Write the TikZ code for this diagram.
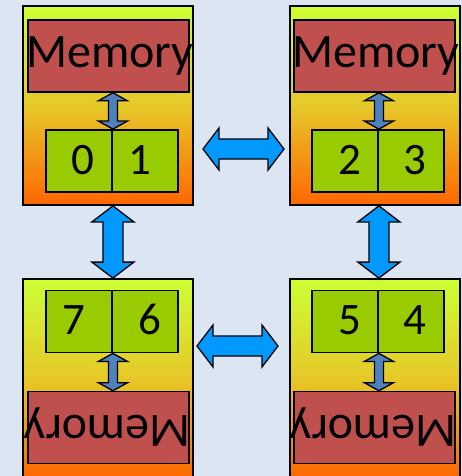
\documentclass[tikz,border=0pt]{standalone}
\usepackage{fontspec}
\setmainfont{Carlito}
\usetikzlibrary{calc}

\definecolor{bgblue}{HTML}{DCE6F2}
\definecolor{unittop}{HTML}{CCFF33}
\definecolor{unitmid}{HTML}{E6C829}
\definecolor{unitbot}{HTML}{FF6600}
\definecolor{memred}{HTML}{C0504D}
\definecolor{regreen}{HTML}{99CC00}
\definecolor{linkblue}{HTML}{4F81BD}
\definecolor{busblue}{HTML}{0099FF}

\tikzset{
  % block double arrow between two points: head length / head half width / shaft half width
  dblarrow/.style args={#1/#2/#3}{to path={
     -- ($(\tikztostart)!#1!(\tikztotarget)!#2!90:(\tikztotarget)$)
     -- ($(\tikztostart)!#1!(\tikztotarget)!#3!90:(\tikztotarget)$)
     -- ($(\tikztotarget)!#1!(\tikztostart)!#3!-90:(\tikztostart)$)
     -- ($(\tikztotarget)!#1!(\tikztostart)!#2!-90:(\tikztostart)$)
     -- (\tikztotarget)
     -- ($(\tikztotarget)!#1!(\tikztostart)!#2!90:(\tikztostart)$)
     -- ($(\tikztotarget)!#1!(\tikztostart)!#3!90:(\tikztostart)$)
     -- ($(\tikztostart)!#1!(\tikztotarget)!#3!-90:(\tikztotarget)$)
     -- ($(\tikztostart)!#1!(\tikztotarget)!#2!-90:(\tikztotarget)$)
     -- cycle}},
  unitbox/.style={draw=black, line width=1.8pt, rectangle, inner sep=0pt,
     minimum width=170pt, minimum height=199pt,
     top color=unittop, bottom color=unitbot, middle color=unitmid},
  membox/.style={draw=black, line width=1.5pt, fill=memred, rectangle, inner sep=0pt,
     minimum width=161pt, minimum height=72pt, text height=30pt, text depth=6pt,
     font=\fontsize{48}{48}\selectfont},
  cellbox/.style={draw=black, line width=1.8pt, fill=regreen, rectangle, inner sep=0pt,
     minimum width=66pt, minimum height=62pt},
  digit/.style={anchor=base, inner sep=0pt, font=\fontsize{45}{45}\selectfont},
  buslink/.style={draw=black, line width=1.3pt, fill=busblue, line join=miter,
     dblarrow=16pt/21pt/10pt},
  memlink/.style={draw=black, line width=1.3pt, fill=linkblue, line join=miter,
     dblarrow=8pt/14.5pt/4.5pt},
}

\newcommand{\memlabel}{\makebox[0pt]{\hspace{3pt}Memory}}

\begin{document}
\begin{tikzpicture}[x=1pt, y=-1pt]
  \useasboundingbox (0,0) rectangle (462,476);
  \clip (0,0) rectangle (462,476);
  \fill[bgblue] (0,0) rectangle (462,476);

  % processing units
  \node[unitbox] (tl) at (108,105.5) {};
  \node[unitbox] (tr) at (375,105.5) {};
  \node[unitbox] (bl) at (108,378.5) {};
  \node[unitbox] (br) at (375,378.5) {};

  % local memories (lower ones upside down)
  \node[membox] (mtl) at (108.5,56) {\memlabel};
  \node[membox] (mtr) at (374.5,56) {\memlabel};
  \node[membox, rotate=180] (mbl) at (108.5,427.5) {\memlabel};
  \node[membox, rotate=180] (mbr) at (374.5,427.5) {\memlabel};

  % register pairs
  \node[cellbox] (c0) at (79,161) {};
  \node[cellbox] (c1) at (145,161) {};
  \node[cellbox] (c2) at (345,161) {};
  \node[cellbox] (c3) at (411,161) {};
  \node[cellbox] (c7) at (79,321.5) {};
  \node[cellbox] (c6) at (145,321.5) {};
  \node[cellbox] (c5) at (345,321.5) {};
  \node[cellbox] (c4) at (411,321.5) {};

  \node[digit] (d0) at (83,174.5) {0};
  \node[digit] (d1) at (139.5,174.5) {1};
  \node[digit] (d2) at (350,174.5) {2};
  \node[digit] (d3) at (415,174.5) {3};
  \node[digit] (d7) at (73.5,334) {7};
  \node[digit] (d6) at (149.5,334) {6};
  \node[digit] (d5) at (349.5,334) {5};
  \node[digit] (d4) at (415,334) {4};

  % memory <-> register links
  \draw[memlink] (c0.north east |- mtl.south) to (c0.north east);
  \draw[memlink] (c2.north east |- mtr.south) to (c2.north east);
  \draw[memlink] (c7.south east) to (c7.south east |- mbl.south);
  \draw[memlink] (c5.south east) to (c5.south east |- mbr.south);

  % links between units
  \coordinate (topL) at (203,149);
  \coordinate (topR) at (284,149);
  \coordinate (botL) at (197,346);
  \coordinate (botR) at (278,346);
  \draw[buslink] (topL) to (topR);
  \draw[buslink] (botL) to (botR);
  \draw[buslink] (c0.south east |- tl.south) to (c0.south east |- bl.north);
  \draw[buslink] (c2.south east |- tr.south) to (c2.south east |- br.north);
\end{tikzpicture}
\end{document}
